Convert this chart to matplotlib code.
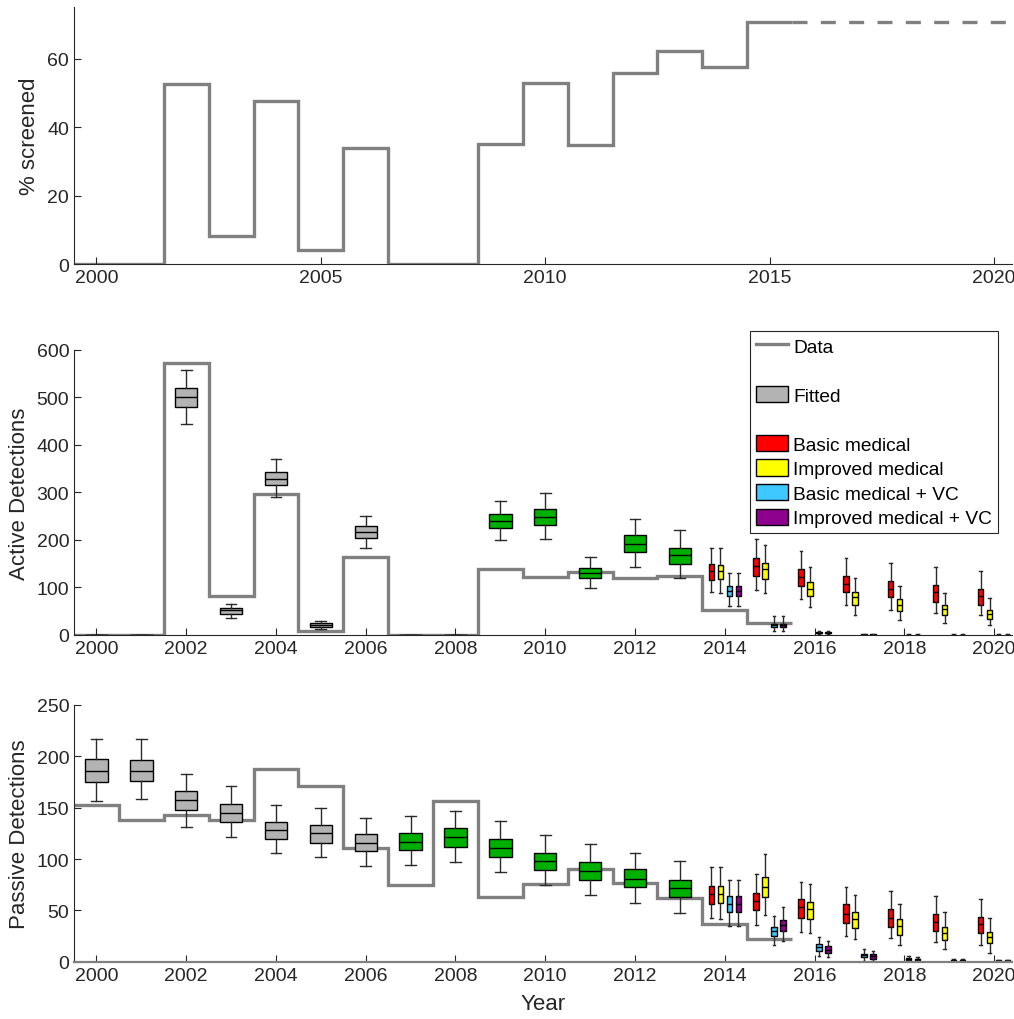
import matplotlib
matplotlib.use("Agg")
import matplotlib.pyplot as plt
import numpy as np
from matplotlib.lines import Line2D
from matplotlib.patches import Patch

plt.rcParams['font.family'] = ['Liberation Sans', 'DejaVu Sans']

# % of population screened per year
screen_years = np.arange(2000, 2016)
screened = [0, 0, 52.7, 8.2, 47.7, 4.1, 33.9, 0, 0, 35.1, 53.0, 34.8, 55.9, 62.3, 57.4, 70.8]
future_years = np.arange(2016, 2021)
screened_future = [70.8, 70.8, 70.8, 70.8, 70.8]

# observed detections (2000-2015)
active_data = [0, 0, 573, 82, 296, 8, 165, 0, 0, 139, 122, 133, 120, 124, 53, 25]
passive_data = [153, 138, 143, 138, 188, 171, 111, 75, 156, 63, 76, 90, 77, 62, 37, 22]

# fitted boxes 2000-2013: (low whisker, q1, median, q3, high whisker)
fit_years = np.arange(2000, 2014)
active_fit = [(0, 0, 0, 0, 0), (0, 0, 0, 0, 0), (445, 479, 500, 519, 558),
              (36, 44, 52, 57, 65), (291, 315, 329, 344, 371), (12, 17, 21, 25, 30),
              (184, 204, 217, 229, 251), (0, 0, 0, 0, 0), (0, 0, 0, 0, 0),
              (199, 226, 240, 254, 283), (201, 232, 249, 265, 299), (99, 119, 130, 140, 165),
              (144, 175, 192, 210, 245), (120, 149, 168, 184, 220)]
passive_fit = [(156, 175, 186, 197, 217), (158, 176, 186, 196, 217), (131, 148, 157, 166, 183),
               (121, 136, 145, 154, 171), (106, 120, 128, 136, 153), (102, 116, 125, 133, 150),
               (93, 108, 116, 124, 140), (94, 109, 117, 125, 142), (97, 112, 121, 130, 147),
               (87, 102, 111, 120, 137), (75, 89, 98, 106, 123), (65, 80, 88, 97, 115),
               (57, 73, 81, 90, 106), (48, 63, 72, 80, 98)]
active_green_from = 2009
passive_green_from = 2007

# projections 2014-2020 per strategy
proj_years = np.arange(2014, 2021)
active_basic = [(90, 116, 135, 149, 182), (94, 124, 146, 162, 203), (76, 103, 122, 139, 177),
                (63, 90, 108, 125, 163), (53, 80, 97, 113, 152), (46, 70, 90, 106, 143),
                (41, 63, 83, 97, 135)]
active_improved = [(88, 117, 135, 148, 182), (88, 117, 138, 151, 189), (58, 82, 97, 111, 142),
                   (42, 64, 79, 90, 120), (32, 51, 64, 76, 103), (25, 42, 54, 63, 89),
                   (20, 34, 44, 53, 78)]
active_basic_vc = [(61, 81, 92, 104, 130), (9, 16, 21, 24, 39), (2, 4, 5, 6, 9),
                   (0, 0, 0.5, 1, 1.5), (0, 0, 0, 0.5, 1), (0, 0, 0, 0.5, 1), (0, 0, 0, 0.5, 1)]
active_improved_vc = [(61, 81, 93, 104, 130), (9, 16, 21, 24, 39), (2, 4, 5, 6, 9),
                      (0, 0, 0.5, 1, 1.5), (0, 0, 0, 0.5, 1), (0, 0, 0, 0.5, 1), (0, 0, 0, 0.5, 1)]
passive_basic = [(43, 56, 66, 74, 92), (36, 50, 59, 67, 85), (29, 43, 53, 61, 78),
                 (25, 38, 47, 56, 73), (23, 34, 43, 51, 69), (19, 30, 39, 47, 64),
                 (16, 28, 37, 44, 61)]
passive_improved = [(42, 57, 66, 74, 92), (46, 63, 73, 83, 105), (28, 42, 51, 58, 76),
                    (22, 33, 42, 49, 65), (16, 26, 35, 42, 56), (13, 21, 28, 34, 49),
                    (9, 18, 24, 29, 43)]
passive_basic_vc = [(35, 49, 56, 64, 80), (16, 25, 30, 34, 45), (6, 11, 14, 17, 24),
                    (1, 5, 6.5, 8, 13), (0.5, 2, 3, 4, 6), (0, 1, 1.5, 2, 3), (0, 0.5, 1, 1.5, 2)]
passive_improved_vc = [(35, 49, 56, 64, 80), (20, 30, 36, 41, 53), (5, 9, 12, 15, 20),
                       (1, 3, 5.5, 7.5, 11), (0.5, 1.5, 2.5, 3, 5), (0, 1, 1.5, 2, 3),
                       (0, 0.5, 1, 1.5, 2)]

strategies = ['Basic medical', 'Improved medical', 'Basic medical + VC', 'Improved medical + VC']
strat_colors = ['#FF0000', '#FFFF00', '#3FC8FF', '#8E008E']
strat_offsets = [-0.3, -0.1, 0.1, 0.3]
fit_gray = '#B3B3B3'
fit_green = '#00B000'
data_gray = '#808080'
axis_col = '#262626'


def to_stats(rows):
    return [dict(whislo=r[0], q1=r[1], med=r[2], q3=r[3], whishi=r[4], fliers=[]) for r in rows]


def boxes(ax, rows, pos, color, width, capw):
    ax.bxp(to_stats(rows), positions=pos, widths=width, capwidths=capw,
           patch_artist=True, showfliers=False, manage_ticks=False,
           boxprops=dict(facecolor=color, edgecolor='black', linewidth=1.0),
           medianprops=dict(color='black', linewidth=1.0),
           whiskerprops=dict(color='#2a2a2a', linewidth=1.0),
           capprops=dict(color='#2a2a2a', linewidth=1.0))


def style(ax, ylim, yticks, xticks):
    ax.set_xlim(1999.5, 2020.4)
    ax.set_ylim(*ylim)
    ax.set_yticks(yticks)
    ax.set_xticks(xticks)
    ax.tick_params(direction='in', length=5, width=0.8, colors=axis_col, labelsize=14)
    for s in ['top', 'right']:
        ax.spines[s].set_visible(False)
    for s in ['left', 'bottom']:
        ax.spines[s].set_color(axis_col)
        ax.spines[s].set_linewidth(0.8)


fig = plt.figure(figsize=(10.14, 10.2), dpi=100)
ax1 = fig.add_axes([0.073, 0.740, 0.925, 0.252])
ax2 = fig.add_axes([0.073, 0.3765, 0.925, 0.2795])
ax3 = fig.add_axes([0.073, 0.056, 0.925, 0.252])

# top panel
edges = np.append(screen_years - 0.5, screen_years[-1] + 0.5)
ax1.stairs(screened, edges, color=data_gray, linewidth=2.4, baseline=None)
fedges = np.append(future_years - 0.5, future_years[-1] + 0.5)
ax1.stairs(screened_future, fedges, color=data_gray, linewidth=2.4, baseline=None,
           linestyle=(0, (4.5, 4)))
style(ax1, (0, 75), [0, 20, 40, 60], [2000, 2005, 2010, 2015, 2020])
ax1.set_ylabel('% screened', fontsize=16, color=axis_col)

# middle and bottom panels
panels = [
    (ax2, active_data, active_fit, active_green_from,
     [active_basic, active_improved, active_basic_vc, active_improved_vc],
     (0, 600), np.arange(0, 601, 100), 'Active Detections'),
    (ax3, passive_data, passive_fit, passive_green_from,
     [passive_basic, passive_improved, passive_basic_vc, passive_improved_vc],
     (0, 250), np.arange(0, 251, 50), 'Passive Detections'),
]
for ax, obs, fit, green_from, projs, ylim, yticks, ylab in panels:
    ax.stairs(obs, edges, color=data_gray, linewidth=2.4, baseline=None, zorder=1)
    for yr, row in zip(fit_years, fit):
        c = fit_green if yr >= green_from else fit_gray
        boxes(ax, [row], [yr], c, 0.5, 0.24)
    for rows, c, off in zip(projs, strat_colors, strat_offsets):
        boxes(ax, rows, proj_years + off, c, 0.12, 0.06)
    style(ax, ylim, yticks, np.arange(2000, 2021, 2))
    ax.set_ylabel(ylab, fontsize=16, color=axis_col)

ax3.spines['bottom'].set_color(data_gray)
ax3.spines['bottom'].set_linewidth(1.6)
ax3.set_xlabel('Year', fontsize=16, color=axis_col, labelpad=7)
ax1.yaxis.set_label_coords(-0.036, 0.5)
ax2.yaxis.set_label_coords(-0.047, 0.5)
ax3.yaxis.set_label_coords(-0.047, 0.5)

blank = Line2D([], [], linestyle='none')
handles = [Line2D([], [], color=data_gray, linewidth=2.4), blank,
           Patch(facecolor=fit_gray, edgecolor='black'), blank]
handles += [Patch(facecolor=c, edgecolor='black') for c in strat_colors]
labels = ['Data', ' ', 'Fitted', ' '] + strategies
leg = ax2.legend(handles, labels, loc='upper left', bbox_to_anchor=(0.740, 0.6745),
                 bbox_transform=fig.transFigure, borderaxespad=0, fancybox=False,
                 framealpha=1, edgecolor=axis_col, fontsize=13.8, handlelength=1.67,
                 handleheight=0.94, labelspacing=0.30, handletextpad=0.26, borderpad=0.3)
leg.get_frame().set_linewidth(0.8)

fig.savefig('out.png', dpi=100)
